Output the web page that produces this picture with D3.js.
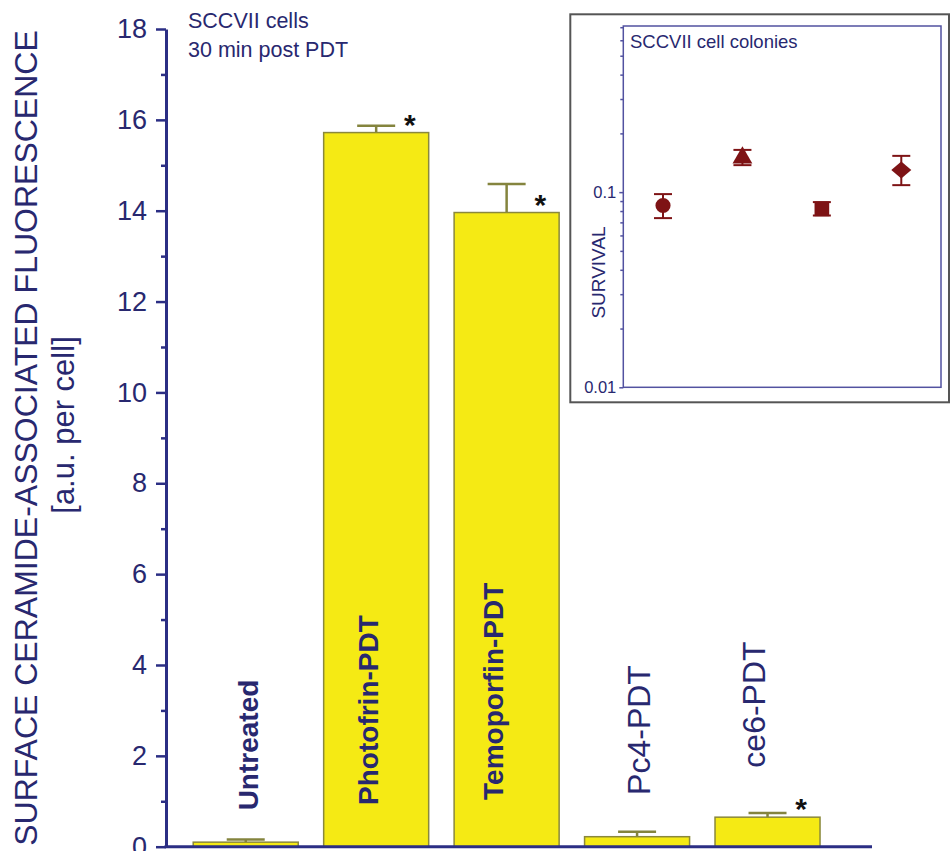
<!DOCTYPE html>
<html>
<head>
<meta charset="utf-8">
<script src="https://d3js.org/d3.v7.min.js"></script>
<style>
  body { margin: 0; background: #fff; }
  text { font-family: "Liberation Sans", Arial, sans-serif; }
</style>
</head>
<body>
<script>
// main bar chart data
var categories = ["Untreated", "Photofrin-PDT", "Temoporfin-PDT", "Pc4-PDT", "ce6-PDT"];
var values     = [0.10, 15.72, 13.96, 0.22, 0.65];
var errTop     = [0.16, 15.87, 14.59, 0.33, 0.74];
var starred    = [false, true, true, false, true];
var boldLabel  = [true, true, true, false, false];
var labelAt    = [0.8, 0.92, 1.03, 1.14, 1.74];   // where the rotated label starts (data units)
var labelDx    = [12, 2, -4, 13, -3];
var yTicks     = [0, 2, 4, 6, 8, 10, 12, 14, 16, 18];
var yMinor     = [1, 3, 5, 7, 9, 11, 13, 15, 17];

// inset: colony survival
var insetPos   = [1, 2, 3, 4];
var survival   = [0.0854, 0.150, 0.0821, 0.130];
var survLow    = [0.0736, 0.1375, 0.0759, 0.1086];
var survHigh   = [0.0977, 0.1646, 0.0889, 0.1534];
var shapes     = ["circle", "triangle", "square", "diamond"];
var insetTicks = [0.01, 0.1];

var w = 950, h = 851;
var navy = "#2b2e84", textNavy = "#28286f";
var svg = d3.select("body").append("svg").attr("width", w).attr("height", h);

var x = d3.scaleBand().domain(categories).range([180.5, 832.75])
          .paddingInner(0.195).paddingOuter(0.0975);
var y = d3.scaleLinear().domain([0, 18]).range([846.7, 29]);
var axisX = 166;

// bars
var bars = svg.append("g");
categories.forEach(function(c, i) {
  var cx = x(c) + x.bandwidth() / 2;
  // error bar (upper only)
  bars.append("line").attr("x1", cx).attr("x2", cx)
      .attr("y1", y(values[i])).attr("y2", y(errTop[i]))
      .attr("stroke", "#84843e").attr("stroke-width", 2.5);
  bars.append("line").attr("x1", cx - 19).attr("x2", cx + 19)
      .attr("y1", y(errTop[i])).attr("y2", y(errTop[i]))
      .attr("stroke", "#84843e").attr("stroke-width", 2.5);
  bars.append("rect").attr("x", x(c)).attr("y", y(values[i]))
      .attr("width", x.bandwidth()).attr("height", y(0) - y(values[i]))
      .attr("fill", "#f5ea14").attr("stroke", "#8a883c").attr("stroke-width", 1.5);
  if (starred[i]) {
    bars.append("text").attr("x", cx + x.bandwidth() * 0.32).attr("y", y(values[i]) + 2)
        .attr("text-anchor", "middle").attr("font-size", 30).attr("font-weight", "bold")
        .attr("fill", "#111").text("*");
  }
  var lx = cx + labelDx[i], ly = y(labelAt[i]);
  svg.append("text").attr("transform", "translate(" + lx + "," + ly + ") rotate(-90)")
      .attr("font-size", boldLabel[i] ? 28 : 32)
      .attr("font-weight", boldLabel[i] ? "bold" : "normal")
      .attr("fill", textNavy).text(c);
});

// y axis
var yAxis = svg.append("g").attr("transform", "translate(" + axisX + ",0)")
  .call(d3.axisLeft(y).tickValues(yTicks).tickSize(10).tickSizeOuter(0).tickPadding(9));
yAxis.select(".domain").attr("stroke", navy).attr("stroke-width", 3);
yAxis.selectAll(".tick line").attr("stroke", navy).attr("stroke-width", 2.5);
yAxis.selectAll(".tick text").attr("font-size", 27).attr("fill", textNavy)
     .attr("font-family", "Liberation Sans, Arial, sans-serif");
var yMin = svg.append("g").attr("transform", "translate(" + axisX + ",0)")
  .call(d3.axisLeft(y).tickValues(yMinor).tickSize(5).tickFormat(""));
yMin.select(".domain").remove();
yMin.selectAll(".tick line").attr("stroke", navy).attr("stroke-width", 2.5);

// x axis line
svg.append("line").attr("x1", axisX - 1.5).attr("x2", 872)
   .attr("y1", y(0)).attr("y2", y(0)).attr("stroke", navy).attr("stroke-width", 3);

// axis titles
svg.append("text").attr("transform", "translate(36.7," + 438 + ") rotate(-90)")
   .attr("text-anchor", "middle").attr("font-size", 32).attr("fill", textNavy)
   .text("SURFACE CERAMIDE-ASSOCIATED FLUORESCENCE");
svg.append("text").attr("transform", "translate(73.5," + 425 + ") rotate(-90)")
   .attr("text-anchor", "middle").attr("font-size", 31).attr("fill", textNavy)
   .text("[a.u. per cell]");

svg.append("text").attr("x", 188).attr("y", 28).attr("font-size", 21.5).attr("fill", textNavy)
   .text("SCCVII cells");
svg.append("text").attr("x", 188).attr("y", 56.5).attr("font-size", 21.5).attr("fill", textNavy)
   .text("30 min post PDT");

// ---- inset ----
svg.append("rect").attr("x", 570.3).attr("y", 14.3).attr("width", 378.7).attr("height", 388)
   .attr("fill", "#fff").attr("stroke", "#555").attr("stroke-width", 2);

var ix = d3.scaleLinear().domain([0.5, 4.5]).range([623.3, 941]);
var iy = d3.scaleLog().domain([0.01, 0.71]).range([387.3, 26]);
var frameCol = "#5252a0";

svg.append("rect").attr("x", ix.range()[0]).attr("y", iy.range()[1])
   .attr("width", ix.range()[1] - ix.range()[0]).attr("height", iy.range()[0] - iy.range()[1])
   .attr("fill", "none").attr("stroke", frameCol).attr("stroke-width", 1.5);

var iAxis = svg.append("g").attr("transform", "translate(" + ix.range()[0] + ",0)")
  .call(d3.axisLeft(iy).tickValues(insetTicks).tickSize(4).tickPadding(3)
        .tickFormat(function(d) { return d === 0.1 ? "0.1" : "0.01"; }));
iAxis.select(".domain").remove();
iAxis.selectAll(".tick line").attr("stroke", frameCol).attr("stroke-width", 1.5);
iAxis.selectAll(".tick text").attr("font-size", 16.5).attr("fill", textNavy)
     .attr("font-family", "Liberation Sans, Arial, sans-serif");
var minorLog = iy.ticks().filter(function(d) { return insetTicks.indexOf(d) < 0; });
var iMin = svg.append("g").attr("transform", "translate(" + ix.range()[0] + ",0)")
  .call(d3.axisLeft(iy).tickValues(minorLog).tickSize(3).tickFormat(""));
iMin.select(".domain").remove();
iMin.selectAll(".tick line").attr("stroke", frameCol).attr("stroke-width", 1.5);

svg.append("text").attr("x", 630).attr("y", 48).attr("font-size", 18.5).attr("fill", textNavy)
   .text("SCCVII cell colonies");
svg.append("text").attr("transform", "translate(605,272.5) rotate(-90)")
   .attr("text-anchor", "middle").attr("font-size", 19).attr("fill", textNavy)
   .text("SURVIVAL");

var red = "#7e1315";
var symType = { circle: d3.symbolCircle, triangle: d3.symbolTriangle, square: d3.symbolSquare, diamond: d3.symbolSquare };
var symSize = { circle: 180, triangle: 170, square: 215, diamond: 200 };
insetPos.forEach(function(p, i) {
  var px = ix(p);
  var g = svg.append("g");
  g.append("line").attr("x1", px).attr("x2", px).attr("y1", iy(survLow[i])).attr("y2", iy(survHigh[i]))
   .attr("stroke", red).attr("stroke-width", 2);
  [survLow[i], survHigh[i]].forEach(function(v) {
    g.append("line").attr("x1", px - 9).attr("x2", px + 9).attr("y1", iy(v)).attr("y2", iy(v))
     .attr("stroke", red).attr("stroke-width", 2);
  });
  var rot = shapes[i] === "diamond" ? " scale(1, 0.85) rotate(45)" : "";
  g.append("path").attr("d", d3.symbol().type(symType[shapes[i]]).size(symSize[shapes[i]])())
   .attr("transform", "translate(" + px + "," + iy(survival[i]) + ")" + rot)
   .attr("fill", red);
});
</script>
</body>
</html>
